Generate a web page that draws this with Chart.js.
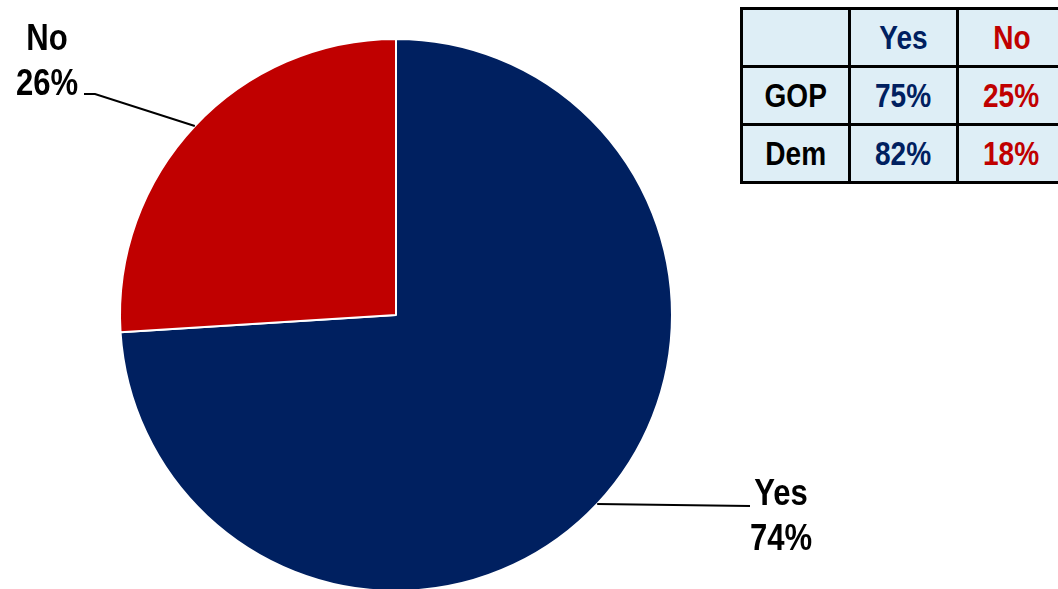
<!DOCTYPE html>
<html>
<head>
<meta charset="utf-8">
<script src="https://cdn.jsdelivr.net/npm/chart.js@4"></script>
<style>
  html, body { margin: 0; padding: 0; background: #fff; overflow: hidden; }
  #wrap { position: relative; width: 1058px; height: 589px; overflow: hidden; }
  #chart { position: absolute; left: 0; top: 0; }
  table.party {
    position: absolute; left: 740px; top: 7px; width: 327px;
    table-layout: fixed;
    border-collapse: collapse; background: #DEEEF6;
    font-family: "Liberation Sans", Arial, sans-serif;
    font-weight: bold; font-size: 33px;
  }
  table.party td {
    border: 3px solid #000; height: 55px; padding: 0;
    text-align: center; vertical-align: middle; white-space: nowrap;
  }
  table.party td span { display: inline-block; transform: scaleX(0.85); }
  .yes { color: #002060; }
  .no { color: #C00000; }
  .lbl { color: #000; }
</style>
</head>
<body>
<div id="wrap">
  <canvas id="chart" width="1058" height="620"></canvas>
  <table class="party" id="party"></table>
</div>
<script>
const categories = ['Yes', 'No'];
const shares = [74, 26];
const sliceColors = ['#002060', '#C00000'];

// party breakdown table
const tableHeader = ['', 'Yes', 'No'];
const parties = ['GOP', 'Dem'];
const partyYes = [75, 82];
const partyNo = [25, 18];

const cell = (cls, txt) => '<td class="' + cls + '"><span>' + txt + '</span></td>';
const tbl = document.getElementById('party');
let html = '<tr>' + tableHeader.map((h, i) =>
  cell(i === 1 ? 'yes' : i === 2 ? 'no' : 'lbl', h)).join('') + '</tr>';
parties.forEach((p, i) => {
  html += '<tr>' + cell('lbl', p) + cell('yes', partyYes[i] + '%') + cell('no', partyNo[i] + '%') + '</tr>';
});
tbl.innerHTML = html;

// leader lines + labels: elbow point and text anchor per slice
const leaderCfg = [
  { elbow: null, end: [750, 506], text: [781, 495] },
  { elbow: [95, 94], end: [84, 94], text: [47, 40] }
];

const labelPlugin = {
  id: 'pieLabels',
  afterDatasetsDraw(chart) {
    const ctx = chart.ctx;
    const meta = chart.getDatasetMeta(0);
    meta.data.forEach((arc, i) => {
      const p = arc.getProps(['x', 'y', 'startAngle', 'endAngle', 'outerRadius'], true);
      const mid = (p.startAngle + p.endAngle) / 2;
      const sx = p.x + Math.cos(mid) * p.outerRadius;
      const sy = p.y + Math.sin(mid) * p.outerRadius;
      const c = leaderCfg[i];
      ctx.save();
      ctx.strokeStyle = '#000';
      ctx.lineWidth = 2;
      ctx.beginPath();
      ctx.moveTo(sx, sy);
      if (c.elbow) ctx.lineTo(c.elbow[0], c.elbow[1]);
      ctx.lineTo(c.end[0], c.end[1]);
      ctx.stroke();
      // narrow-looking bold text: squeeze horizontally
      ctx.translate(c.text[0], c.text[1]);
      ctx.scale(0.84, 1);
      ctx.fillStyle = '#000';
      ctx.font = 'bold 37px "Liberation Sans", Arial, sans-serif';
      ctx.textAlign = 'center';
      ctx.textBaseline = 'middle';
      ctx.fillText(categories[i], 0, 0);
      ctx.fillText(shares[i] + '%', 0, 45);
      ctx.restore();
    });
  }
};

new Chart(document.getElementById('chart'), {
  type: 'pie',
  data: {
    labels: categories,
    datasets: [{
      data: shares,
      backgroundColor: sliceColors,
      borderColor: '#ffffff',
      borderWidth: 2
    }]
  },
  options: {
    responsive: false,
    animation: false,
    layout: { padding: { left: 119, right: 385, top: 38, bottom: 28 } },
    plugins: {
      legend: { display: false },
      tooltip: { enabled: false }
    }
  },
  plugins: [labelPlugin]
});
</script>
</body>
</html>
